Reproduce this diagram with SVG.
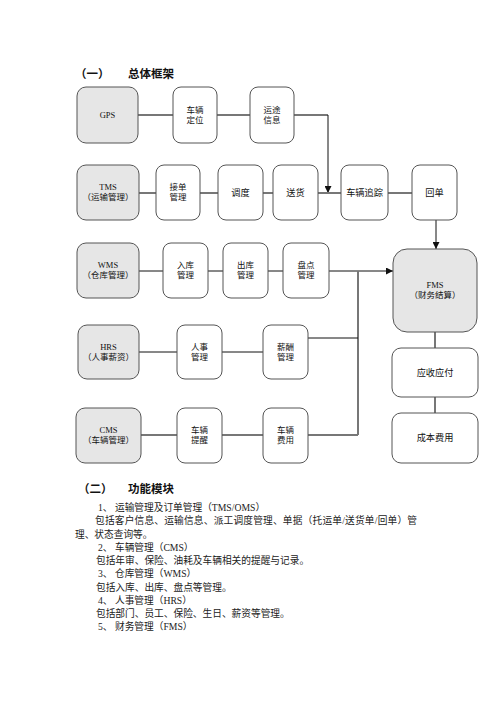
<svg xmlns="http://www.w3.org/2000/svg" width="496" height="702" viewBox="0 0 496 702">
<style>
.box{fill:#fff;stroke:#555;stroke-width:1}
.g{fill:#e6e6e6}
.t{font-family:"Liberation Serif","Noto Sans CJK SC",serif;font-size:8.5px;fill:#111;text-anchor:middle}
.t1{font-family:"Liberation Serif","Noto Sans CJK SC",serif;font-size:9.2px;fill:#111;text-anchor:middle}
.gl{stroke:#777;stroke-width:2;fill:none}
.bl{stroke:#111;stroke-width:1;fill:none}
.h{font-family:"Liberation Sans","Noto Sans CJK SC",sans-serif;font-size:11.5px;font-weight:bold;fill:#111}
.p{font-family:"Liberation Serif","Noto Sans CJK SC",serif;font-size:9.7px;fill:#222}
</style>
<defs>
<marker id="ar" viewBox="0 0 10 10" refX="10" refY="5" markerWidth="7" markerHeight="7" markerUnits="userSpaceOnUse" orient="auto">
<path d="M0,0 L10,5 L0,10 z" fill="#111"/>
</marker>
</defs>
<rect width="496" height="702" fill="#fff"/>
<text class="h" x="75" y="78">（一）</text>
<text class="h" x="128" y="78">总体框架</text>

<g id="connectors">
<path class="gl" d="M138,115 H173 M217,115 H250 M294,115 H328"/>
<path class="bl" d="M328,115 V193" marker-end="url(#ar)"/>
<path class="gl" d="M139,193 H156 M200,193 H218 M263,193 H273 M318,193 H341 M388,193 H412"/>
<path class="bl" d="M436,220 V249" marker-end="url(#ar)"/>
<path class="bl" d="M139,271 H163 M208,271 H223 M268,271 H283"/>
<path class="bl" d="M329,271 H393" marker-end="url(#ar)"/>
<path class="gl" d="M358,271 V435"/>
<path class="bl" d="M139,352 H177 M222,352 H263 M308,338 H358"/>
<path class="gl" d="M141,435 H177 M222,435 H263 M308,435 H358"/>
<path class="gl" d="M435,332 V348 M435,397 V413"/>
</g>

<g id="gps"><rect class="box g" x="77" y="87" width="61" height="56" rx="9"/><text class="t" x="107.5" y="118">GPS</text></g>
<g id="clocate"><rect class="box" x="173" y="87" width="44" height="56" rx="8"/><text class="t" x="195" y="113">车辆</text><text class="t" x="195" y="123">定位</text></g>
<g id="route"><rect class="box" x="250" y="87" width="44" height="56" rx="8"/><text class="t" x="272" y="113">运途</text><text class="t" x="272" y="123">信息</text></g>

<g id="tms"><rect class="box g" x="77" y="165" width="62" height="55" rx="9"/><text class="t" x="108" y="190">TMS</text><text class="t" x="108" y="200">（运输管理）</text></g>
<g id="order"><rect class="box" x="156" y="165" width="44" height="55" rx="8"/><text class="t" x="178" y="190">接单</text><text class="t" x="178" y="200">管理</text></g>
<g id="dispatch"><rect class="box" x="218" y="165" width="45" height="55" rx="8"/><text class="t1" x="240.5" y="196">调度</text></g>
<g id="deliver"><rect class="box" x="273" y="165" width="45" height="55" rx="8"/><text class="t1" x="295.5" y="196">送货</text></g>
<g id="track"><rect class="box" x="341" y="165" width="47" height="55" rx="8"/><text class="t1" x="364.5" y="196">车辆追踪</text></g>
<g id="receipt"><rect class="box" x="412" y="165" width="45" height="55" rx="8"/><text class="t1" x="434.5" y="196">回单</text></g>

<g id="wms"><rect class="box g" x="77" y="243" width="62" height="55" rx="9"/><text class="t" x="108" y="268">WMS</text><text class="t" x="108" y="278">（仓库管理）</text></g>
<g id="inbound"><rect class="box" x="163" y="243" width="45" height="55" rx="8"/><text class="t" x="185.5" y="268">入库</text><text class="t" x="185.5" y="278">管理</text></g>
<g id="outbound"><rect class="box" x="223" y="243" width="45" height="55" rx="8"/><text class="t" x="245.5" y="268">出库</text><text class="t" x="245.5" y="278">管理</text></g>
<g id="stock"><rect class="box" x="283" y="243" width="46" height="55" rx="8"/><text class="t" x="306" y="268">盘点</text><text class="t" x="306" y="278">管理</text></g>

<g id="fms"><rect class="box g" x="393" y="249" width="84" height="83" rx="14"/><text class="t" x="435" y="288">FMS</text><text class="t" x="435" y="298">（财务结算）</text></g>

<g id="hrs"><rect class="box g" x="78" y="325" width="61" height="54" rx="9"/><text class="t" x="108.5" y="350">HRS</text><text class="t" x="108.5" y="360">（人事薪资）</text></g>
<g id="hr"><rect class="box" x="177" y="325" width="45" height="54" rx="8"/><text class="t" x="199.5" y="350">人事</text><text class="t" x="199.5" y="360">管理</text></g>
<g id="salary"><rect class="box" x="263" y="325" width="45" height="54" rx="8"/><text class="t" x="285.5" y="350">薪酬</text><text class="t" x="285.5" y="360">管理</text></g>
<g id="arap"><rect class="box" x="392" y="348" width="86" height="49" rx="9"/><text class="t1" x="435" y="376">应收应付</text></g>

<g id="cms"><rect class="box g" x="76" y="408" width="65" height="55" rx="9"/><text class="t" x="108.5" y="433">CMS</text><text class="t" x="108.5" y="443">（车辆管理）</text></g>
<g id="remind"><rect class="box" x="177" y="408" width="45" height="55" rx="8"/><text class="t" x="199.5" y="433">车辆</text><text class="t" x="199.5" y="443">提醒</text></g>
<g id="cost"><rect class="box" x="263" y="408" width="45" height="55" rx="8"/><text class="t" x="285.5" y="433">车辆</text><text class="t" x="285.5" y="443">费用</text></g>
<g id="costfee"><rect class="box" x="392" y="413" width="86" height="50" rx="9"/><text class="t1" x="435" y="441">成本费用</text></g>

<text class="h" x="78" y="493">（二）</text>
<text class="h" x="128" y="493">功能模块</text>
<text class="p" x="98" y="511">1、 运输管理及订单管理（TMS/OMS）</text>
<text class="p" x="95" y="524.3" textLength="322" lengthAdjust="spacing">包括客户信息、运输信息、派工调度管理、单据（托运单/送货单/回单）管</text>
<text class="p" x="75" y="537.5">理、状态查询等。</text>
<text class="p" x="98" y="550.8">2、 车辆管理（CMS）</text>
<text class="p" x="96" y="564">包括年审、保险、油耗及车辆相关的提醒与记录。</text>
<text class="p" x="98" y="577.3">3、 仓库管理（WMS）</text>
<text class="p" x="96" y="590.5">包括入库、出库、盘点等管理。</text>
<text class="p" x="98" y="603.8">4、 人事管理（HRS）</text>
<text class="p" x="96" y="617">包括部门、员工、保险、生日、薪资等管理。</text>
<text class="p" x="98" y="630.3">5、 财务管理（FMS）</text>
</svg>
